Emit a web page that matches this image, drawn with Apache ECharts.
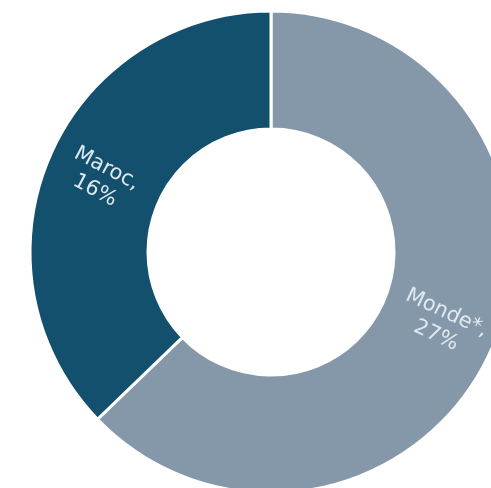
<!DOCTYPE html>
<html>
<head>
<meta charset="utf-8">
<script src="https://cdn.jsdelivr.net/npm/echarts@6/dist/echarts.min.js"></script>
<style>html,body{margin:0;padding:0;background:#fff}#c{width:491px;height:488px}</style>
</head>
<body>
<div id="c"></div>
<script>
var categories = ['Monde*', 'Maroc'];
var values = [27, 16];

var sliceColors = ['#8598aa', '#12506e'];
var labelRotations = [-25, -28];

var chart = echarts.init(document.getElementById('c'), null, {renderer: 'canvas'});
chart.setOption({
  animation: false,
  series: [{
    type: 'pie',
    center: [271, 252],
    radius: [123, 241],
    startAngle: 90,
    clockwise: true,
    avoidLabelOverlap: false,
    itemStyle: { borderColor: '#ffffff', borderWidth: 3 },
    label: {
      show: true,
      position: 'inside',
      formatter: '{b},\n{c}%',
      color: '#e0e9ef',
      fontSize: 21,
      lineHeight: 25,
      fontFamily: 'DejaVu Sans',
      align: 'center'
    },
    labelLine: { show: false },
    data: categories.map(function (c, i) {
      return {
        name: c,
        value: values[i],
        itemStyle: { color: sliceColors[i] },
        label: { rotate: labelRotations[i] }
      };
    })
  }]
});
</script>
</body>
</html>
